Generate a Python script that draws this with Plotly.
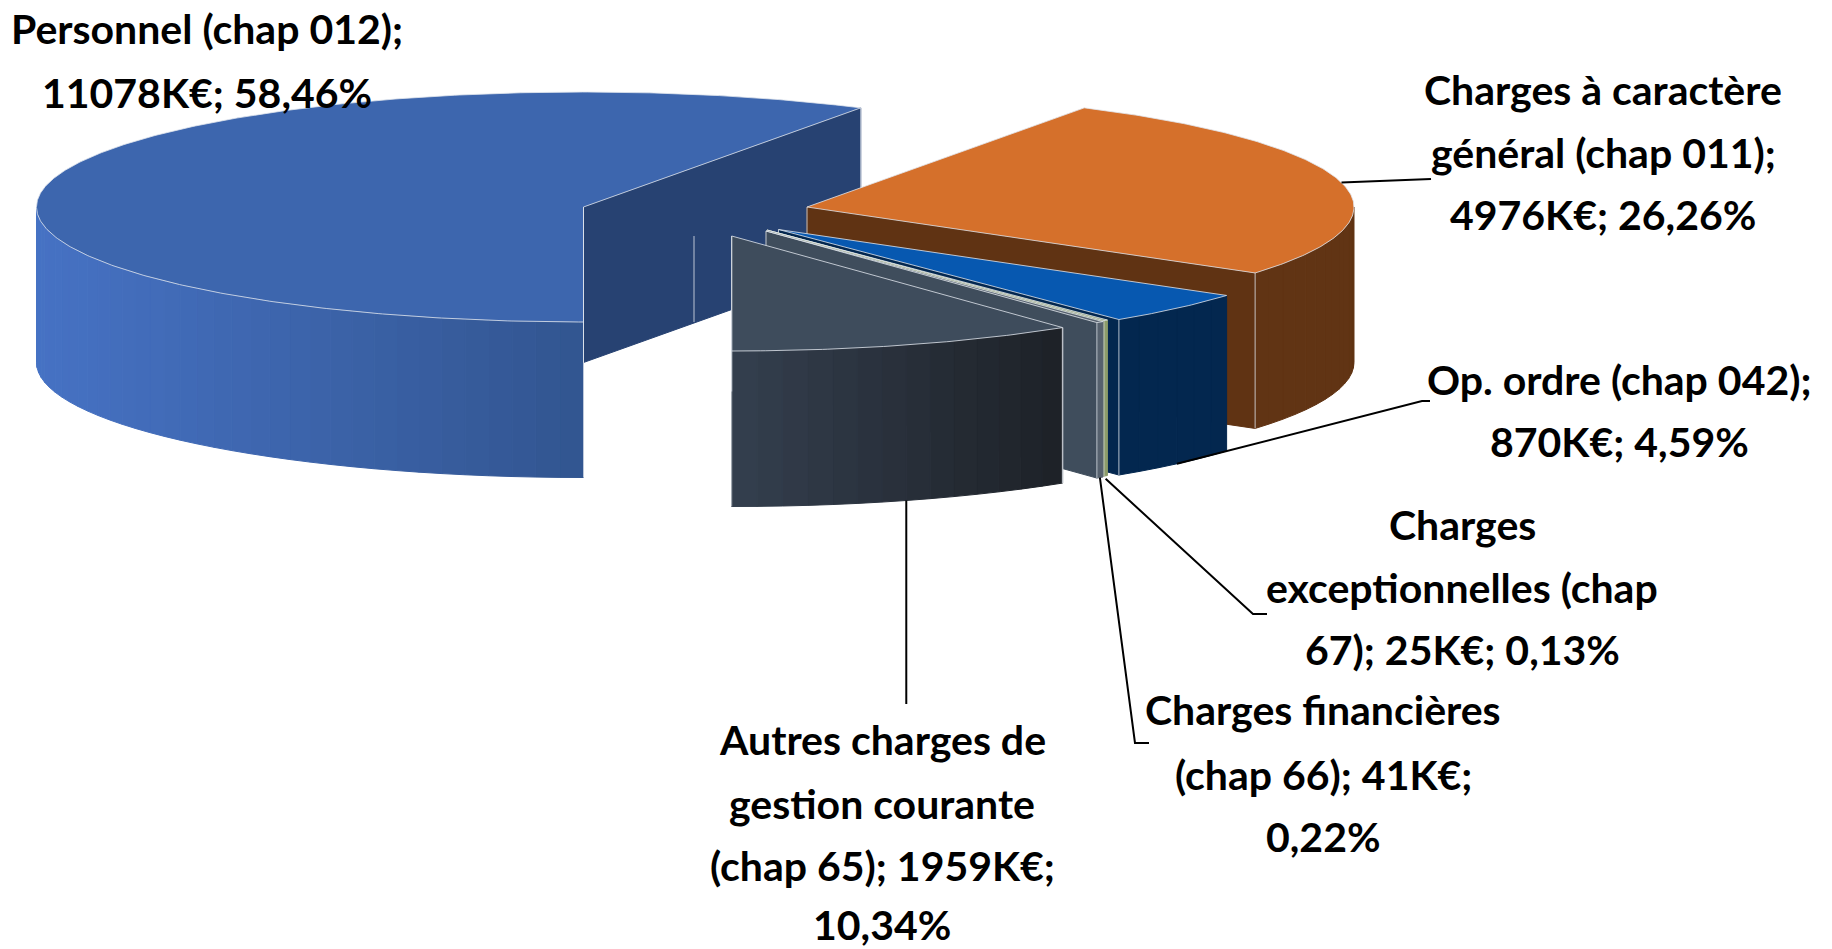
import math
import plotly.graph_objects as go

# ---- data ----
categories = ["Personnel (chap 012)", "Charges à caractère général (chap 011)", "Op. ordre (chap 042)",
              "Charges exceptionnelles (chap 67)", "Charges financières (chap 66)",
              "Autres charges de gestion courante (chap 65)"]
values_keur = [11078, 4976, 870, 25, 41, 1959]
percents = [58.46, 26.26, 4.59, 0.13, 0.22, 10.34]

# ---- styling and layout ----
W, H = 1832, 949
RX, RY, DEPTH = 547, 115, 155.5
START = 180.0           # first slice starts at 6 o'clock, clockwise
centers = [(583.5, 207), (807, 207), (778.5, 229.5), (767, 230), (766, 231), (731.7, 236)]
top_cols = ["#3D66AE", "#D5702B", "#0758B0", "#8C9C6A", "#56616E", "#3E4C5C"]
end_cols = ["#274272", "#603313", "#03274F", "#8C9C6A", "#3F4D5C", "#2B3542"]
wall_grad = [("#4672C4", "#325590"), ("#613414", "#613414"), ("#03274F", "#03274F"),
             ("#8C9C6A", "#8C9C6A"), ("#56616E", "#56616E"), ("#343F4E", "#1D2127")]
EDGE = "rgba(225,230,238,0.8)"
FONT = "Lato, Open Sans, sans-serif"
FS = 41

labels = [
    (207, [("Personnel (chap 012);", 28.5), ("11078K€; 58,46%", 92)]),
    (1603, [("Charges à caractère", 89), ("général (chap 011);", 152), ("4976K€; 26,26%", 214)]),
    (1619, [("Op. ordre (chap 042);", 379), ("870K€; 4,59%", 441)]),
    (1462, [("Charges", 524), ("exceptionnelles (chap", 587), ("67); 25K€; 0,13%", 649)]),
    (1323, [("Charges financières", 709), ("(chap 66); 41K€;", 774), ("0,22%", 836)]),
    (882, [("Autres charges de", 739), ("gestion courante", 803), ("(chap 65); 1959K€;", 865), ("10,34%", 924)]),
]


def pt(c, theta, dz=0.0):
    t = math.radians(theta)
    return c[0] + RX * math.sin(t), c[1] - RY * math.cos(t) + dz


def arc(c, a, b, dz=0.0, step=0.5):
    n = max(2, int(abs(b - a) / step) + 1)
    return [pt(c, a + (b - a) * i / (n - 1), dz) for i in range(n)]


def mix(c1, c2, f):
    a = [int(c1[i:i + 2], 16) for i in (1, 3, 5)]
    b = [int(c2[i:i + 2], 16) for i in (1, 3, 5)]
    return "#%02X%02X%02X" % tuple(round(a[i] + (b[i] - a[i]) * f) for i in range(3))


fig = go.Figure()


def poly(points, fill, line=None, width=1):
    xs = [p[0] for p in points] + [points[0][0]]
    ys = [p[1] for p in points] + [points[0][1]]
    fig.add_trace(go.Scatter(x=xs, y=ys, mode="lines", fill="toself", fillcolor=fill,
                             line=dict(color=line or fill, width=width), hoverinfo="skip", showlegend=False))


def path(points, color, width=1):
    fig.add_trace(go.Scatter(x=[p[0] for p in points], y=[p[1] for p in points], mode="lines",
                             line=dict(color=color, width=width), hoverinfo="skip", showlegend=False))


angles = []
a = START
for p_ in percents:
    b = a + p_ * 3.6
    angles.append((a, b))
    a = b

for i, (a, b) in enumerate(angles):
    c = centers[i]
    # outer wall: only the part facing the viewer
    ranges = []
    for lo, hi in ((90, 270), (450, 630)):
        l, h = max(a, lo), min(b, hi)
        if h > l:
            ranges.append((l, h))
    for l, h in ranges:
        pieces = max(1, int((h - l) / 2.5))
        xa = pt(c, l)[0]
        xb = pt(c, h)[0]
        xmin, xmax = min(xa, xb), max(xa, xb)
        for k in range(pieces):
            s0 = l + (h - l) * k / pieces
            s1 = l + (h - l) * (k + 1) / pieces
            top = arc(c, s0, s1)
            bot = arc(c, s1, s0, DEPTH)
            xm = (pt(c, s0)[0] + pt(c, s1)[0]) / 2
            f = (xm - xmin) / (xmax - xmin) if xmax > xmin else 0
            poly(top + bot, mix(wall_grad[i][0], wall_grad[i][1], f))
    # radial face on the clockwise side
    e = pt(c, b)
    if b < 179.9 or b > 360:
        face = [c, e, (e[0], e[1] + DEPTH), (c[0], c[1] + DEPTH)]
        poly(face, end_cols[i])
        path([e, (e[0], e[1] + DEPTH)], EDGE)
    # top face
    top = [c] + arc(c, a, b)
    poly(top, top_cols[i], line=EDGE, width=1)
    path([c, (c[0], c[1] + DEPTH)], EDGE)
    if i == 0:
        # pale seam on the cut face
        path([(694, 236), (694, 322)], EDGE)
        path([pt(c, a), pt(c, a, DEPTH)], EDGE)
    if i == 5:
        path([pt(c, a), pt(c, a, DEPTH)], EDGE, 1.5)

# ---- leader lines, anchored on each slice's mid angle ----
LW = 2
mid = [(x + y) / 2 for x, y in angles]
path([pt(centers[1], mid[1]), (1431, 179)], "#000000", LW)
blue = pt(centers[2], mid[2], DEPTH)
path([blue, (1422, 401), (1430, 401)], "#000000", LW)
path([pt(centers[3], mid[3], DEPTH + 3), (1253, 614), (1267, 614)], "#000000", LW)
path([pt(centers[4], mid[4], DEPTH), (1135, 743), (1149, 743)], "#000000", LW)
low = pt(centers[5], mid[5], DEPTH)
path([low, (low[0], 704)], "#000000", LW)

annotations = []
for cx, lines in labels:
    for txt, y in lines:
        annotations.append(dict(x=cx, y=y, text=txt, showarrow=False, xref="x", yref="y",
                                xanchor="center", yanchor="middle",
                                font=dict(family=FONT, size=FS, color="#000000", weight="bold")))

fig.update_layout(
    width=W, height=H, margin=dict(l=0, r=0, t=0, b=0), paper_bgcolor="#FFFFFF", plot_bgcolor="#FFFFFF",
    xaxis=dict(range=[0, W], visible=False, fixedrange=True),
    yaxis=dict(range=[H, 0], visible=False, fixedrange=True),
    showlegend=False, annotations=annotations,
)
fig.write_html("out.html", config={"displayModeBar": False},
               post_script="document.body.style.margin='0';document.documentElement.style.overflow='hidden';")
